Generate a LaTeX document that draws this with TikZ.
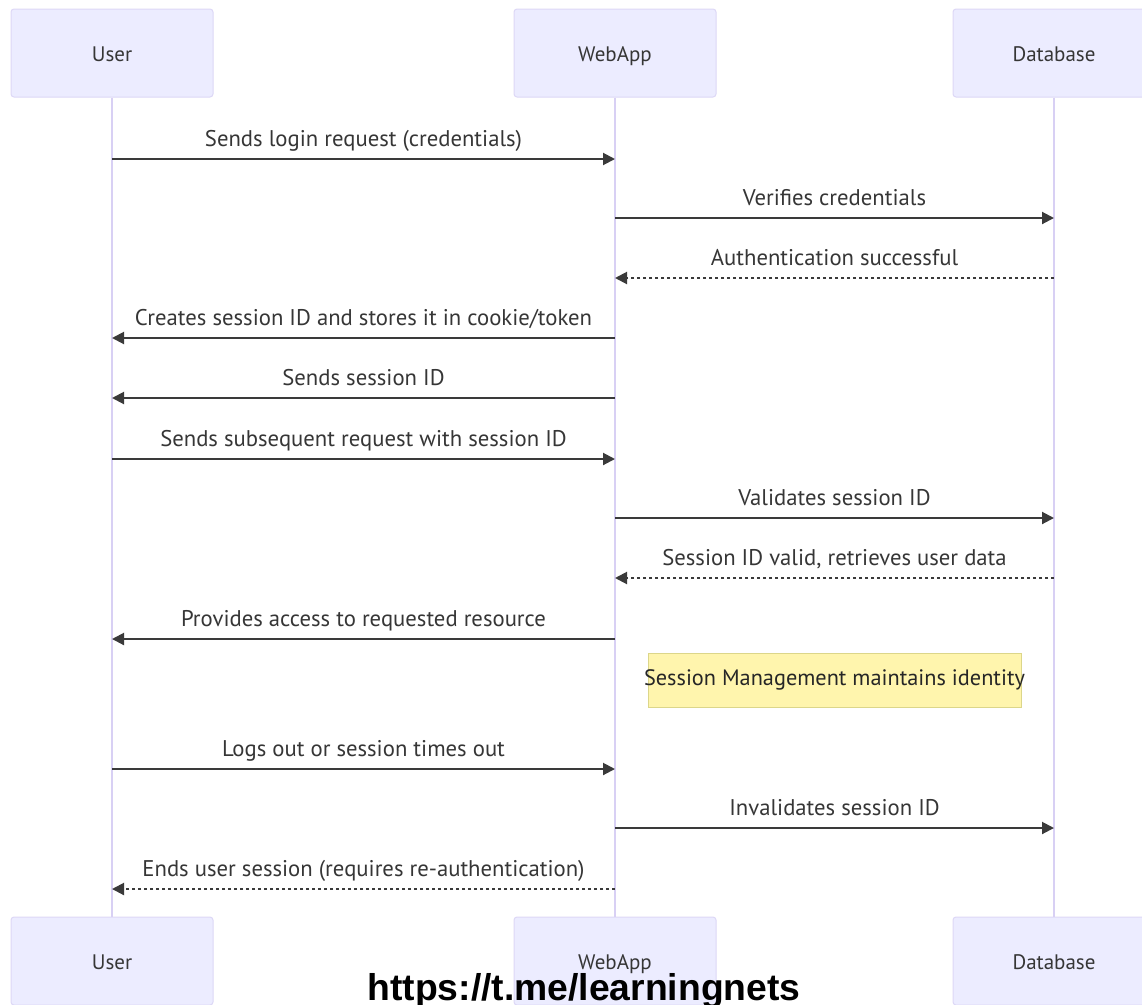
\documentclass[tikz,border=0pt]{standalone}
\usepackage{fontspec}
\setmainfont{PT Sans}
\newfontfamily\urlfont{Liberation Sans}
\usetikzlibrary{arrows.meta}
\definecolor{actfill}{HTML}{ECECFF}
\definecolor{actline}{HTML}{DDD8F6}
\definecolor{lifec}{HTML}{D8D0F4}
\definecolor{msgc}{HTML}{3A3A3A}
\definecolor{txtc}{HTML}{363636}
\definecolor{notefill}{HTML}{FFF5AD}
\definecolor{noteline}{HTML}{DCD68A}
\tikzset{
  actor/.style={draw=actline, line width=1pt, fill=actfill, rounded corners=3pt,
    minimum width=202pt, minimum height=88pt, inner sep=0pt, text=txtc,
    text height=17pt, text depth=0pt,
    font=\fontsize{21}{24}\selectfont},
  life/.style={draw=lifec, line width=2pt},
  msg/.style={draw=msgc, line width=2pt, -{Triangle[length=12pt,width=12pt]}},
  reply/.style={msg, dash pattern=on 3pt off 3pt},
  lbl/.style={midway, anchor=base, yshift=13pt, text=txtc, inner sep=0pt,
    font=\fontsize{22.7}{26}\selectfont},
  notebox/.style={draw=noteline, line width=1pt, fill=notefill,
    minimum width=373pt, minimum height=54pt, inner sep=0pt},
  notetext/.style={text=black!85, inner sep=0pt, font=\fontsize{22.3}{26}\selectfont},
}
\begin{document}
\begin{tikzpicture}[x=1pt,y=-1pt]
\useasboundingbox (0,0) rectangle (1142,1004);
\clip (0,0) rectangle (1142,1004);
\fill[white] (0,0) rectangle (1142,1004);

% participants
\node[actor] (uT) at (112,53) {User};
\node[actor] (wT) at (615,53) {WebApp};
\node[actor] (dT) at (1054,53) {Database};
\node[actor] (uB) at (112,961) {User};
\node[actor] (wB) at (615,961) {WebApp};
\node[actor] (dB) at (1054,961) {Database};

% lifelines
\draw[life] (uT.south) -- (uB.north);
\draw[life] (wT.south) -- (wB.north);
\draw[life] (dT.south) -- (dB.north);

% message anchor points
\foreach \i/\y in {1/159,2/218,3/278,4/338,5/398,6/459,7/518,8/578,9/639,10/769,11/828,12/889}{
  \coordinate (u\i) at (uT.south |- 0,\y);
  \coordinate (w\i) at (wT.south |- 0,\y);
  \coordinate (d\i) at (dT.south |- 0,\y);
}

\draw[msg] (u1) -- node[lbl]{Sends login request (credentials)} (w1);
\draw[msg] (w2) -- node[lbl]{Verifies credentials} (d2);
\draw[reply] (d3) -- node[lbl]{Authentication successful} (w3);
\draw[msg] (w4) -- node[lbl]{Creates session ID and stores it in cookie/token} (u4);
\draw[msg] (w5) -- node[lbl]{Sends session ID} (u5);
\draw[msg] (u6) -- node[lbl]{Sends subsequent request with session ID} (w6);
\draw[msg] (w7) -- node[lbl]{Validates session ID} (d7);
\draw[reply] (d8) -- node[lbl]{Session ID valid, retrieves user data} (w8);
\draw[msg] (w9) -- node[lbl]{Provides access to requested resource} (u9);

% note
\node[notebox] (note) at (834.5,680) {};
\node[notetext] (notetxt) at (note.center) {Session Management maintains identity};

\draw[msg] (u10) -- node[lbl]{Logs out or session times out} (w10);
\draw[msg] (w11) -- node[lbl]{Invalidates session ID} (d11);
\draw[reply] (w12) -- node[lbl]{Ends user session (requires re-authentication)} (u12);

% watermark
\node[anchor=base, inner sep=0pt, font=\urlfont\bfseries\fontsize{37.3}{40}\selectfont]
  (url) at (584,1000) {https://t.me/learningnets};
\end{tikzpicture}
\end{document}
